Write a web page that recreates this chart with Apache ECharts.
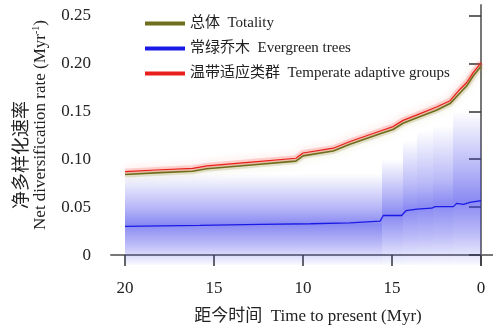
<!DOCTYPE html>
<html>
<head>
<meta charset="utf-8">
<script src="https://cdn.jsdelivr.net/npm/echarts@6/dist/echarts.min.js"></script>
<style>html,body{margin:0;padding:0;background:#fff}#c{width:493px;height:330px}</style>
</head>
<body>
<div id="c"></div>
<script>
// ---- data ----
var lineTime = [20, 18, 16.2, 15.4, 12.9, 10.4, 10.0, 8.3, 7.36, 5.5, 4.94, 4.38, 3.63, 2.5, 1.74, 1.18, 0.8, 0.43, 0];
var temperate = [0.087, 0.089, 0.0905, 0.093, 0.097, 0.101, 0.1065, 0.1115, 0.1185, 0.1305, 0.134, 0.1405, 0.146, 0.1545, 0.161, 0.173, 0.18, 0.1905, 0.2005];
var totality = [0.084, 0.086, 0.0875, 0.090, 0.094, 0.098, 0.1035, 0.1085, 0.1155, 0.1275, 0.131, 0.1375, 0.143, 0.151, 0.158, 0.169, 0.1765, 0.187, 0.197];

var blueTime = [20, 15.8, 12.4, 9.6, 7.36, 5.67, 5.49, 4.46, 4.2, 3.6, 2.77, 2.58, 1.55, 1.37, 0.99, 0.62, 0];
var evergreen = [0.030, 0.031, 0.0321, 0.0327, 0.0337, 0.0355, 0.0413, 0.0413, 0.0465, 0.048, 0.0489, 0.0506, 0.0506, 0.054, 0.053, 0.055, 0.0568];

// evergreen uncertainty density, one step segment between consecutive edges
var segEdges  = [20, 5.58, 4.37, 3.6, 2.7, 1.57, 0];
var faintTop  = [0.085, 0.100, 0.120, 0.130, 0.135, 0.150];
var strongTop = [0.050, 0.064, 0.072, 0.074, 0.078, 0.092];
var peakLevel = [0.032, 0.042, 0.048, 0.050, 0.053, 0.056];
var strongBot = [0.012, 0.018, 0.020, 0.021, 0.022, 0.024];
var faintBot  = [-0.0103, -0.0103, -0.0103, -0.0103, -0.0103, -0.0103];

var yTickValues = [0, 0.05, 0.10, 0.15, 0.20, 0.25];
var yTickLabels = ['0', '0.05', '0.10', '0.15', '0.20', '0.25'];
var xTickValues = [20, 15, 10, 5, 0];
var xTickLabels = ['20', '15', '10', '15', '0'];

var seriesNames = ['总体  Totality', '常绿乔木  Evergreen trees', '温带适应类群  Temperate adaptive groups'];

// ---- build options ----
function pairs(xs, ys) { return xs.map(function (x, i) { return [x, ys[i]]; }); }
function blue(a) { return 'rgba(60,60,235,' + a + ')'; }

var FONT = '"Liberation Serif", "Noto Sans CJK SC", serif';
var series = [];
series.push({
  type: 'custom', silent: true, z: 1, clip: true,
  data: [[segEdges[0], peakLevel[0]]],
  renderItem: function (params, api) {
    var children = [];
    for (var i = 0; i < segEdges.length - 1; i++) {
      var pA = api.coord([segEdges[i], faintTop[i]]);
      var pB = api.coord([segEdges[i + 1], faintBot[i]]);
      var x0 = Math.round(Math.min(pA[0], pB[0])), x1 = Math.round(Math.max(pA[0], pB[0]));
      var y0 = pA[1], y1 = pB[1], h = y1 - y0;
      var off = function (v) { return Math.max(0, Math.min(1, (api.coord([0, v])[1] - y0) / h)); };
      children.push({
        type: 'rect', shape: { x: x0, y: y0, width: x1 - x0, height: h },
        style: {
          fill: new echarts.graphic.LinearGradient(0, 0, 0, 1, [
            { offset: 0, color: blue(0) },
            { offset: off(strongTop[i]), color: blue(0.36) },
            { offset: off(peakLevel[i]), color: blue(0.6) },
            { offset: off(strongBot[i]), color: blue(0.36) },
            { offset: 1, color: blue(0.03) }
          ])
        }
      });
    }
    return { type: 'group', children: children };
  }
});
// soft uncertainty halos for the two upper curves
series.push({
  type: 'line', data: pairs(lineTime, totality), symbol: 'none', z: 2, silent: true,
  lineStyle: { color: 'rgba(150,150,60,0.22)', width: 6, shadowColor: 'rgba(150,150,60,0.4)', shadowBlur: 6, shadowOffsetY: 2 }
});
series.push({
  type: 'line', data: pairs(lineTime, temperate), symbol: 'none', z: 2, silent: true,
  lineStyle: { color: 'rgba(255,70,60,0.22)', width: 6, shadowColor: 'rgba(255,60,50,0.45)', shadowBlur: 7, shadowOffsetY: -2 }
});
series.push({
  name: seriesNames[1], type: 'line', data: pairs(blueTime, evergreen), symbol: 'none', z: 3,
  itemStyle: { color: '#1a1ae6' }, lineStyle: { color: '#1a1ae6', width: 1.3 }
});
series.push({
  name: seriesNames[0], type: 'line', data: pairs(lineTime, totality), symbol: 'none', z: 4,
  itemStyle: { color: '#6e6e1c' },
  lineStyle: { color: '#6e6e1c', width: 1.6 }
});
series.push({
  name: seriesNames[2], type: 'line', data: pairs(lineTime, temperate), symbol: 'none', z: 5,
  itemStyle: { color: '#e8201c' },
  lineStyle: { color: '#e8201c', width: 1.2 }
});

var chart = echarts.init(document.getElementById('c'), null, { renderer: 'canvas' });
chart.setOption({
  animation: false,
  backgroundColor: '#fff',
  grid: { left: 111, top: 5, right: 0, bottom: 61, containLabel: false },
  legend: {
    data: seriesNames, orient: 'vertical', left: 145, top: 15, padding: 0, icon: 'rect',
    itemWidth: 40, itemHeight: 4, itemGap: 8,
    textStyle: { fontFamily: FONT, fontSize: 15, color: '#222', lineHeight: 17 }
  },
  xAxis: {
    type: 'value', inverse: true, min: -0.674, max: 20.787,
    axisLine: { lineStyle: { color: '#777', width: 2 } },
    axisTick: { customValues: xTickValues, length: 11, lineStyle: { color: '#333', width: 1.5 } },
    axisLabel: {
      customValues: xTickValues, margin: 15, fontFamily: FONT, fontSize: 17, color: '#222',
      formatter: function (v) { return xTickLabels[xTickValues.indexOf(v)]; }
    },
    splitLine: { show: false },
    name: '距今时间  Time to present (Myr)', nameLocation: 'middle', nameGap: 43,
    nameTextStyle: { fontFamily: FONT, fontSize: 17, color: '#222', padding: [0, 0, 0, 12] }
  },
  yAxis: {
    type: 'value', min: -0.0103, max: 0.2608,
    axisLine: { show: true, lineStyle: { color: '#777', width: 2 } },
    axisTick: { show: true, customValues: yTickValues, length: 12, lineStyle: { color: '#333', width: 1.5 } },
    axisLabel: {
      customValues: yTickValues, margin: 20, fontFamily: FONT, fontSize: 17, color: '#222',
      formatter: function (v) {
        for (var i = 0; i < yTickValues.length; i++) { if (Math.abs(yTickValues[i] - v) < 1e-9) return yTickLabels[i]; }
        return '';
      }
    },
    splitLine: { show: false }
  },
  graphic: [
    {
      type: 'text', x: 20, y: 155, rotation: Math.PI / 2, silent: true,
      style: { text: '净多样化速率', font: '18px "Noto Sans CJK SC"', fill: '#222', align: 'center', verticalAlign: 'middle' }
    },
    {
      type: 'text', x: 40, y: 125, rotation: Math.PI / 2, silent: true,
      style: {
        text: '{a|Net diversification rate (Myr}{s|-1}{a|)}', align: 'center', verticalAlign: 'middle',
        rich: {
          a: { fontFamily: FONT, fontSize: 17, fill: '#222', lineHeight: 18, verticalAlign: 'bottom' },
          s: { fontFamily: FONT, fontSize: 10, fill: '#222', lineHeight: 18, verticalAlign: 'top' }
        }
      }
    }
  ],
  series: series
});
</script>
</body>
</html>
